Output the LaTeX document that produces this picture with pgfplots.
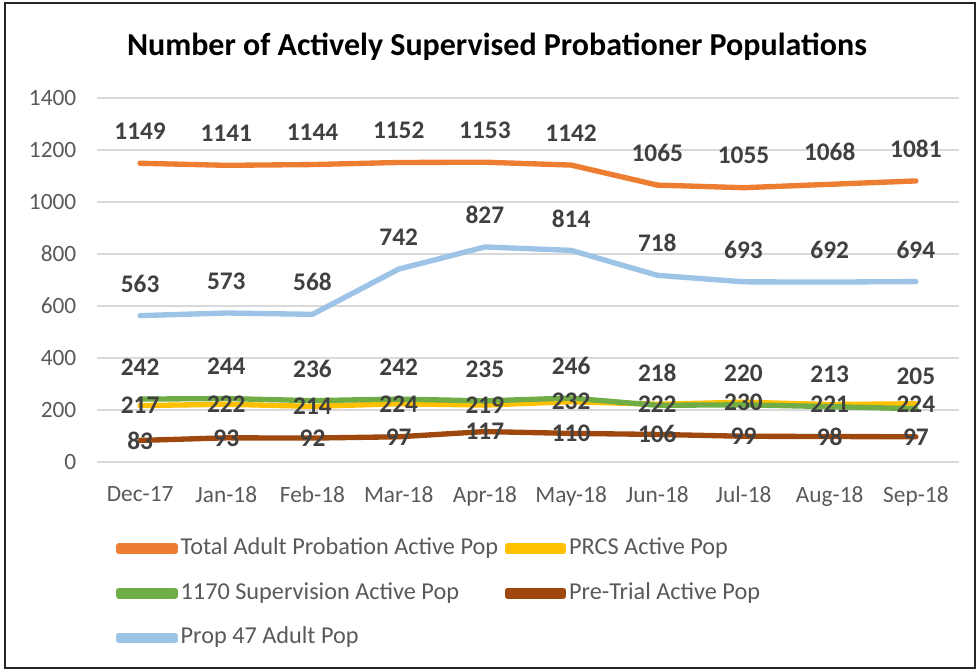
\documentclass[border=0pt]{standalone}
\usepackage{fontspec}
\setmainfont{Carlito}
\usepackage{pgfplots}
\usepackage{pgfplotstable}
\pgfplotsset{compat=1.18}
\definecolor{ctotal}{HTML}{ED7D31}
\definecolor{cprcs}{HTML}{FFC000}
\definecolor{csup}{HTML}{70AD47}
\definecolor{cpre}{HTML}{9E480E}
\definecolor{cprop}{HTML}{9DC3E6}
\definecolor{tickc}{HTML}{595959}
\definecolor{labc}{HTML}{404040}
\definecolor{gridc}{HTML}{D9D9D9}

\pgfplotstableread{
x total prcs sup pre prop
0 1149 217 242 83 563
1 1141 222 244 93 573
2 1144 214 236 92 568
3 1152 224 242 97 742
4 1153 219 235 117 827
5 1142 232 246 110 814
6 1065 222 218 106 718
7 1055 230 220 99 693
8 1068 221 213 98 692
9 1081 224 205 97 694
}\data

\pgfplotsset{
  ser/.style={color=#1, line width=4pt, line cap=round, line join=round, mark=none},
  lbl/.style={draw=none, forget plot, nodes near coords,
    every node near coord/.append style={font=\bfseries\fontsize{19}{19}\selectfont,
      text=labc, anchor=center, yshift=#1}},
}

\begin{document}
\begin{tikzpicture}
\useasboundingbox (0,0) rectangle (734.25pt,503.25pt);
\draw[black!85, line width=1.5pt] (4pt,2.5pt) rectangle (731.5pt,501pt);
\node[font=\bfseries\fontsize{24}{24}\selectfont] at (372.75pt,468pt)
  {Number of Actively Supervised Probationer Populations};
\begin{axis}[
  at={(72.75pt,156.75pt)}, anchor=south west,
  scale only axis, width=646.5pt, height=273pt,
  xmin=-0.5, xmax=9.5, ymin=0, ymax=1400,
  ytick={0,200,...,1400}, xtick={0,...,9},
  xticklabels={Dec-17,Jan-18,Feb-18,Mar-18,Apr-18,May-18,Jun-18,Jul-18,Aug-18,Sep-18},
  axis line style={draw=none}, major tick length=0pt,
  ymajorgrids, grid style={gridc, line width=1pt},
  tick label style={font=\fontsize{17.5}{17.5}\selectfont, text=tickc},
  /pgf/number format/assume math mode=true,
  /pgf/number format/1000 sep={},
  yticklabel style={xshift=-12pt},
  xticklabel style={yshift=-15pt},
  clip=false,
  legend columns=2,
  legend cell align=left,
  legend image code/.code={
    \path (0pt,-2pt) rectangle (42pt,2pt);
    \draw[#1, line width=4pt, line cap=round] (2pt,0pt) -- (40pt,0pt);},
  legend style={draw=none, fill=none, at={(0.0221,-0.2066)}, anchor=north west,
    inner sep=0pt, font=\fontsize{18.2}{18.2}\selectfont, text=tickc,
    nodes={inner sep=0pt, text height=13pt, text depth=4pt},
    row sep=16.4pt,
    /tikz/every odd column/.append style={column sep=2.25pt},
    /tikz/every even column/.append style={column sep=5pt}},
]
\addplot[ser=ctotal] table[x=x,y=total]{\data};
\addlegendentry{Total Adult Probation Active Pop}
\addplot[ser=cprcs] table[x=x,y=prcs]{\data};
\addlegendentry{PRCS Active Pop}
\addplot[ser=csup] table[x=x,y=sup]{\data};
\addlegendentry{1170 Supervision Active Pop}
\addplot[ser=cpre] table[x=x,y=pre]{\data};
\addlegendentry{Pre-Trial Active Pop}
\addplot[ser=cprop] table[x=x,y=prop]{\data};
\addlegendentry{Prop 47 Adult Pop}

\addplot[lbl=24pt] table[x=x,y=total]{\data};
\addplot[lbl=0pt] table[x=x,y=prcs]{\data};
\addplot[lbl=24pt] table[x=x,y=sup]{\data};
\addplot[lbl=0pt] table[x=x,y=pre]{\data};
\addplot[lbl=24pt] table[x=x,y=prop]{\data};
\end{axis}
\end{tikzpicture}
\end{document}
